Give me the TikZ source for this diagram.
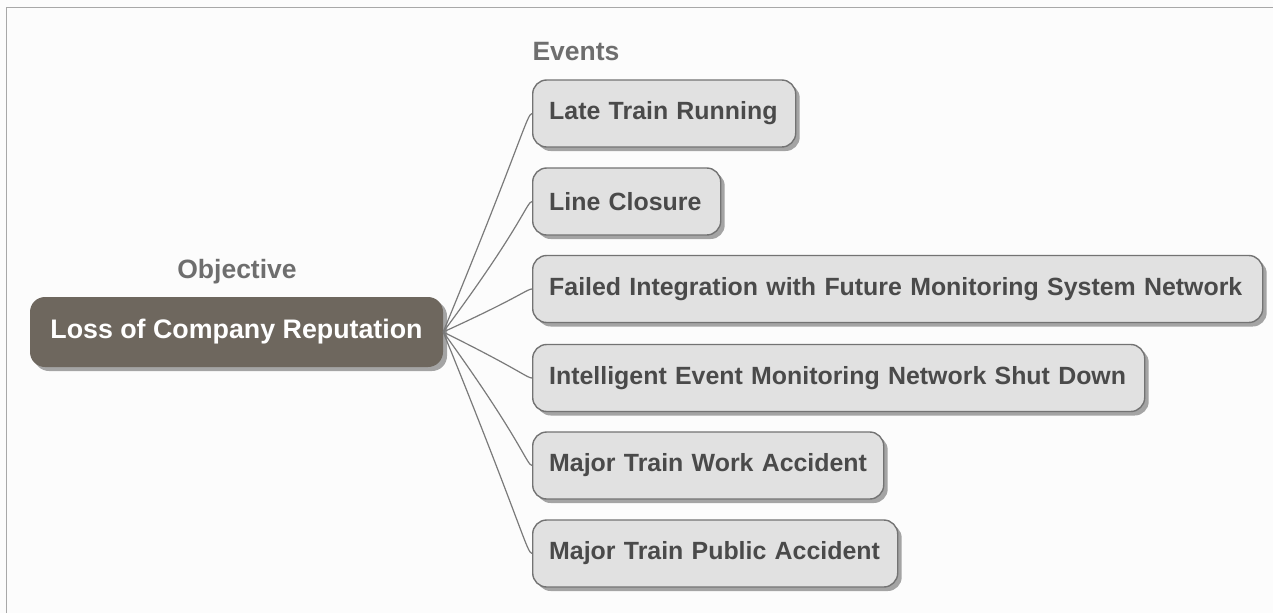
\documentclass[tikz,border=0pt]{standalone}
\usepackage{fontspec}
\setmainfont{Liberation Sans}
\usetikzlibrary{shadows,calc}
\definecolor{mainfill}{HTML}{6E675E}
\definecolor{boxfill}{HTML}{E1E1E1}
\definecolor{boxdraw}{HTML}{737373}
\definecolor{boxtext}{HTML}{4A4A4A}
\definecolor{labeltext}{HTML}{6E6E6E}
\definecolor{frame}{HTML}{A8A8A8}
\definecolor{conn}{HTML}{7A7A7A}
\tikzset{
  eventbox/.style={draw=boxdraw, line width=1.4pt, fill=boxfill, rounded corners=14pt,
    anchor=west, minimum height=67pt, inner xsep=16.5pt, align=left,
    text=boxtext, font=\fontsize{24.9}{28}\selectfont\bfseries,
    drop shadow={shadow xshift=4pt, shadow yshift=-4pt, fill=black, opacity=0.35}},
  mainbox/.style={fill=mainfill, rounded corners=15pt, minimum width=413pt, minimum height=70pt,
    text=white, font=\fontsize{26.8}{30}\selectfont\bfseries,
    drop shadow={shadow xshift=4pt, shadow yshift=-4pt, fill=black, opacity=0.35}},
  grouplabel/.style={text=labeltext, font=\fontsize{26.5}{30}\selectfont\bfseries},
  connector/.style={draw=conn, line width=1.2pt},
}
\begin{document}
\begin{tikzpicture}[x=1pt, y=-1pt]
\useasboundingbox (0,0) rectangle (1273,613);
\fill[white!99!black] (0,0) rectangle (1273,613);
\draw[frame, line width=1.2pt] (6.5,613) -- (6.5,7.5) -- (1273,7.5);

\node[mainbox] (m) at (236.5,332) {Loss of Company Reputation};
\node[grouplabel] (obj) at (237,272) {Objective};
\node[grouplabel, anchor=west] (ev) at (529,52) {Events};

\node[eventbox, text width=230pt] (e1) at (532,113.5) {Late Train Running};
\node[eventbox, text width=155pt] (e2) at (532,201.5) {Line Closure};
\node[eventbox, text width=697pt] (e3) at (532,289) {Failed Integration with Future Monitoring System Network};
\node[eventbox, text width=579pt] (e4) at (532,378) {Intelligent Event Monitoring Network Shut Down};
\node[eventbox, text width=318pt] (e5) at (532,465.5) {Major Train Work Accident};
\node[eventbox, text width=332pt] (e6) at (532,553.5) {Major Train Public Accident};

\draw[connector] (m.east) .. controls ($(e1.west)+(-11,30)$) and ($(e1.west)+(-5,0)$) .. (e1.west);
\draw[connector] (m.east) .. controls ($(e2.west)+(-11,26)$) and ($(e2.west)+(-5,0)$) .. (e2.west);
\draw[connector] (m.east) .. controls ($(e3.west)+(-12,8)$) and ($(e3.west)+(-5,0)$) .. (e3.west);
\draw[connector] (m.east) .. controls ($(e4.west)+(-12,-8)$) and ($(e4.west)+(-5,0)$) .. (e4.west);
\draw[connector] (m.east) .. controls ($(e5.west)+(-11,-26)$) and ($(e5.west)+(-5,0)$) .. (e5.west);
\draw[connector] (m.east) .. controls ($(e6.west)+(-11,-30)$) and ($(e6.west)+(-5,0)$) .. (e6.west);
\end{tikzpicture}
\end{document}
